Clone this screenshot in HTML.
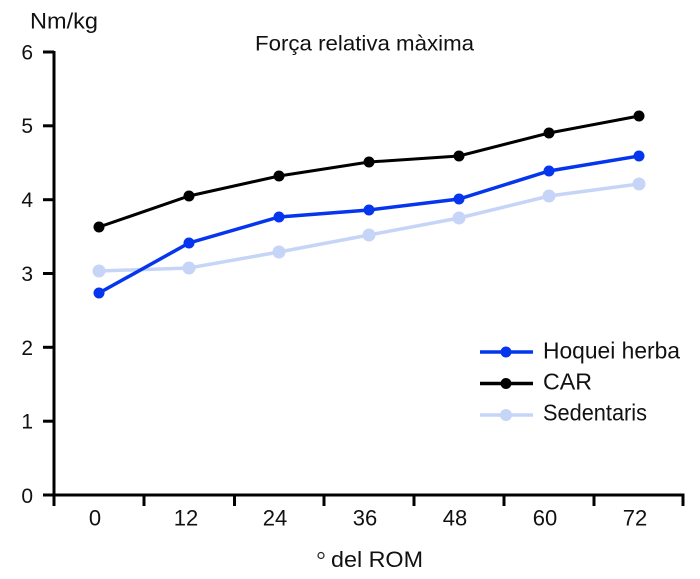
<!DOCTYPE html>
<html><head><meta charset="utf-8"><style>
html,body{margin:0;padding:0;background:#fff;}
svg{display:block;}
text{font-family:"Liberation Sans",sans-serif;fill:#111;}
</style></head><body>
<svg width="700" height="579" viewBox="0 0 700 579" xmlns="http://www.w3.org/2000/svg">
<rect width="700" height="579" fill="#fff"/>
<!-- axes -->
<g stroke="#000" stroke-width="3" fill="none">
<line x1="54" y1="51" x2="54" y2="496.5"/>
<line x1="43" y1="495" x2="684.5" y2="495"/>
<line x1="43" y1="52" x2="54" y2="52"/>
<line x1="43" y1="125.8" x2="54" y2="125.8"/>
<line x1="43" y1="199.7" x2="54" y2="199.7"/>
<line x1="43" y1="273.5" x2="54" y2="273.5"/>
<line x1="43" y1="347.3" x2="54" y2="347.3"/>
<line x1="43" y1="421.2" x2="54" y2="421.2"/>
<line x1="54" y1="495" x2="54" y2="506"/>
<line x1="144" y1="495" x2="144" y2="506"/>
<line x1="234.5" y1="495" x2="234.5" y2="506"/>
<line x1="324" y1="495" x2="324" y2="506"/>
<line x1="414" y1="495" x2="414" y2="506"/>
<line x1="504" y1="495" x2="504" y2="506"/>
<line x1="594" y1="495" x2="594" y2="506"/>
<line x1="683" y1="495" x2="683" y2="506"/>
</g>
<!-- y labels -->
<g font-size="21" text-anchor="end">
<text x="33" y="59.5">6</text>
<text x="33" y="133">5</text>
<text x="33" y="207">4</text>
<text x="33" y="281">3</text>
<text x="33" y="355">2</text>
<text x="33" y="428.5">1</text>
<text x="33" y="503">0</text>
</g>
<!-- x labels -->
<g font-size="22" text-anchor="middle">
<text x="95" y="525.5">0</text>
<text x="186" y="525.5">12</text>
<text x="275" y="525.5">24</text>
<text x="365" y="525.5">36</text>
<text x="455" y="525.5">48</text>
<text x="545" y="525.5">60</text>
<text x="635" y="525.5">72</text>
</g>
<text x="30" y="28.5" font-size="22.5" textLength="68" lengthAdjust="spacingAndGlyphs">Nm/kg</text>
<text x="255" y="50.5" font-size="21" textLength="219" lengthAdjust="spacingAndGlyphs">Força relativa màxima</text>
<circle cx="321" cy="555.5" r="3" fill="none" stroke="#222" stroke-width="1.2"/>
<text x="331" y="567" font-size="22" textLength="92" lengthAdjust="spacingAndGlyphs">del ROM</text>
<!-- series: Sedentaris -->
<polyline points="99,271 189,268 279,252 369,235 459,218 549,196 639,184" fill="none" stroke="#c6d5f7" stroke-width="3.5"/>
<g fill="#c6d5f7">
<circle cx="99" cy="271" r="6.5"/><circle cx="189" cy="268" r="6.5"/><circle cx="279" cy="252" r="6.5"/><circle cx="369" cy="235" r="6.5"/><circle cx="459" cy="218" r="6.5"/><circle cx="549" cy="196" r="6.5"/><circle cx="639" cy="184" r="6.5"/>
</g>
<!-- CAR -->
<polyline points="99,227 189,196 279,176 369,162 459,156 549,133 639,116" fill="none" stroke="#000" stroke-width="3"/>
<g fill="#000">
<circle cx="99" cy="227" r="5.5"/><circle cx="189" cy="196" r="5.5"/><circle cx="279" cy="176" r="5.5"/><circle cx="369" cy="162" r="5.5"/><circle cx="459" cy="156" r="5.5"/><circle cx="549" cy="133" r="5.5"/><circle cx="639" cy="116" r="5.5"/>
</g>
<!-- Hoquei herba -->
<polyline points="99,293 189,243 279,217 369,210 459,199 549,171 639,156" fill="none" stroke="#0536ee" stroke-width="3.5"/>
<g fill="#0536ee">
<circle cx="99" cy="293" r="5.5"/><circle cx="189" cy="243" r="5.5"/><circle cx="279" cy="217" r="5.5"/><circle cx="369" cy="210" r="5.5"/><circle cx="459" cy="199" r="5.5"/><circle cx="549" cy="171" r="5.5"/><circle cx="639" cy="156" r="5.5"/>
</g>
<!-- legend -->
<line x1="480" y1="352" x2="533" y2="352" stroke="#0536ee" stroke-width="3.5"/>
<circle cx="506" cy="352" r="5.5" fill="#0536ee"/>
<line x1="480" y1="383.5" x2="533" y2="383.5" stroke="#000" stroke-width="3.5"/>
<circle cx="506" cy="383.5" r="5.5" fill="#000"/>
<line x1="480" y1="415" x2="533" y2="415" stroke="#c6d5f7" stroke-width="3.5"/>
<circle cx="506" cy="415" r="6" fill="#c6d5f7"/>
<g font-size="23">
<text x="543" y="358.5" textLength="137" lengthAdjust="spacingAndGlyphs">Hoquei herba</text>
<text x="543" y="389.5" textLength="49" lengthAdjust="spacingAndGlyphs">CAR</text>
<text x="543" y="420.5" textLength="104" lengthAdjust="spacingAndGlyphs">Sedentaris</text>
</g>
</svg>
</body></html>
